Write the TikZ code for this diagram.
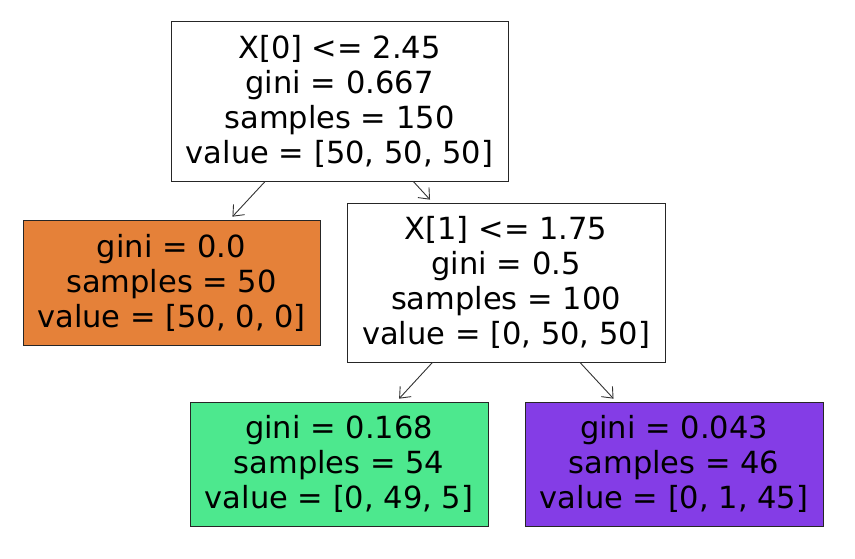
\documentclass[tikz,border=0pt]{standalone}
\usepackage{fontspec}
\setmainfont{DejaVu Sans}
\usetikzlibrary{arrows.meta}
\definecolor{leaforange}{HTML}{E58139}
\definecolor{leafgreen}{HTML}{4DE88E}
\definecolor{leafpurple}{HTML}{843DE6}
\definecolor{edgegray}{HTML}{333333}
\begin{document}
\begin{tikzpicture}[x=1pt,y=-1pt,
  treebox/.style={draw=black!85,line width=0.8pt,rectangle,align=center,inner sep=0pt,
    font=\fontsize{30.5}{35}\selectfont,text=black},
  edge/.style={draw=edgegray,line width=0.9pt,-{Straight Barb[length=9pt,width=15pt,line width=0.9pt]},shorten >=4pt}]
\useasboundingbox (0,0) rectangle (855,558);
\node[treebox,fill=white,minimum width=337pt,minimum height=160pt] (root) at (339.5,101)
  {X[0] <= 2.45\\gini = 0.667\\samples = 150\\value = [50, 50, 50]};
\node[treebox,fill=leaforange,minimum width=297pt,minimum height=125pt] (left) at (171.5,282.5)
  {gini = 0.0\\samples = 50\\value = [50, 0, 0]};
\node[treebox,fill=white,minimum width=318pt,minimum height=159pt] (mid) at (506,282.5)
  {X[1] <= 1.75\\gini = 0.5\\samples = 100\\value = [0, 50, 50]};
\node[treebox,fill=leafgreen,minimum width=298pt,minimum height=124pt] (green) at (339,464)
  {gini = 0.168\\samples = 54\\value = [0, 49, 5]};
\node[treebox,fill=leafpurple,minimum width=298pt,minimum height=124pt] (purple) at (674,464)
  {gini = 0.043\\samples = 46\\value = [0, 1, 45]};
\draw[edge] (root) -- (left);
\draw[edge] (root) -- (mid);
\draw[edge] (mid) -- (green);
\draw[edge] (mid) -- (purple);
\end{tikzpicture}
\end{document}
